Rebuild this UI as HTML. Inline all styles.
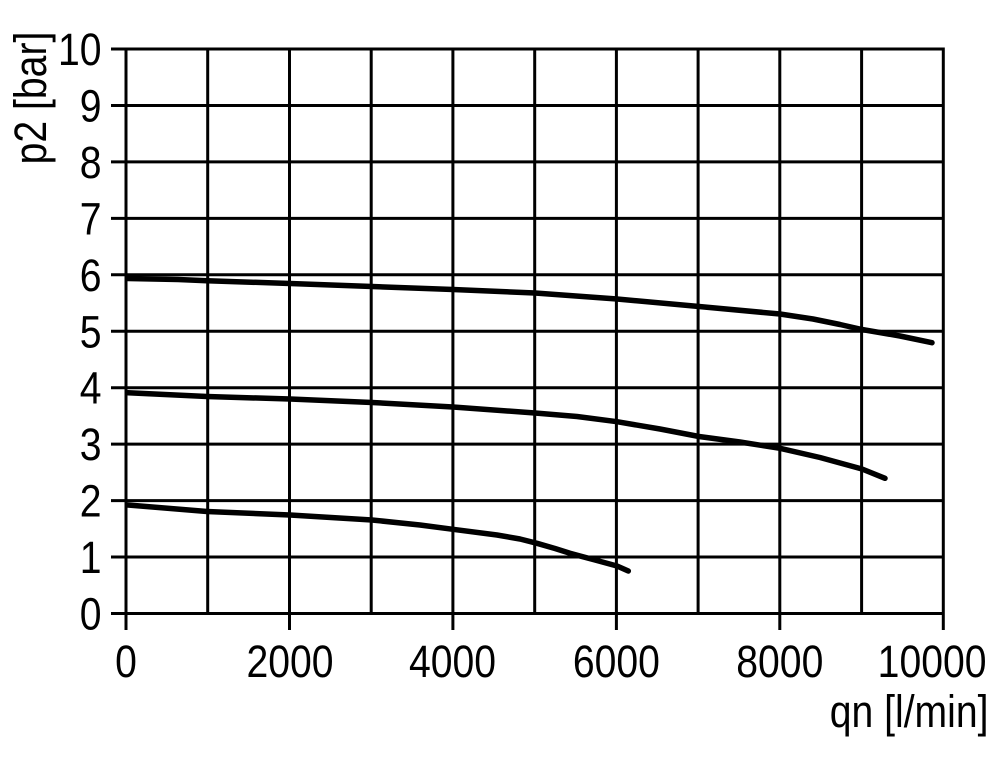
<!DOCTYPE html>
<html>
<head>
<meta charset="utf-8">
<style>
  html,body{margin:0;padding:0;background:#fff;}
  svg{display:block;}
  text{font-family:"Liberation Sans",Arial,sans-serif;font-size:45px;fill:#000;}
</style>
</head>
<body>
<svg width="1000" height="764" viewBox="0 0 1000 764" xmlns="http://www.w3.org/2000/svg">
  <rect x="0" y="0" width="1000" height="764" fill="#fff"/>
  <g stroke="#000" stroke-width="3" fill="none">
    <!-- horizontal grid lines (with left ticks) -->
    <line x1="111" y1="49" x2="943.3" y2="49"/>
    <line x1="111" y1="105.45" x2="943.3" y2="105.45"/>
    <line x1="111" y1="161.9" x2="943.3" y2="161.9"/>
    <line x1="111" y1="218.35" x2="943.3" y2="218.35"/>
    <line x1="111" y1="274.8" x2="943.3" y2="274.8"/>
    <line x1="111" y1="331.25" x2="943.3" y2="331.25"/>
    <line x1="111" y1="387.7" x2="943.3" y2="387.7"/>
    <line x1="111" y1="444.15" x2="943.3" y2="444.15"/>
    <line x1="111" y1="500.6" x2="943.3" y2="500.6"/>
    <line x1="111" y1="557.05" x2="943.3" y2="557.05"/>
    <line x1="111" y1="613.5" x2="943.3" y2="613.5"/>
    <!-- vertical grid lines -->
    <line x1="126" y1="47.5" x2="126" y2="630"/>
    <line x1="207.7" y1="47.5" x2="207.7" y2="613.5"/>
    <line x1="289.5" y1="47.5" x2="289.5" y2="630"/>
    <line x1="371.2" y1="47.5" x2="371.2" y2="613.5"/>
    <line x1="452.9" y1="47.5" x2="452.9" y2="630"/>
    <line x1="534.7" y1="47.5" x2="534.7" y2="613.5"/>
    <line x1="616.4" y1="47.5" x2="616.4" y2="630"/>
    <line x1="698.1" y1="47.5" x2="698.1" y2="613.5"/>
    <line x1="779.8" y1="47.5" x2="779.8" y2="630"/>
    <line x1="861.6" y1="47.5" x2="861.6" y2="613.5"/>
    <line x1="943.3" y1="47.5" x2="943.3" y2="630"/>
  </g>

  <!-- curves -->
  <g stroke="#000" stroke-width="5.5" fill="none" stroke-linecap="round" stroke-linejoin="round">
    <polyline points="128,278.5 178,279.5 207,280.7 290,283.5 372,286.5 453,289.5 535,293 617,299 699,306.5 780,314 813,319 840,324.5 862,329.5 900,336 932,342.7"/>
    <polyline points="128,392.7 207,396.5 290,399 372,402.5 453,407 535,413 577,416.5 617,421.7 660,429 699,436.5 740,442 780,448.3 820,457.5 862,469 885,478.3"/>
    <polyline points="128,505 207,511.5 290,515 372,520 420,525 453,529.3 497,535 520,539 537,543.3 555,548.5 570,553.3 595,560 617,566 628.3,571"/>
  </g>

  <!-- y tick labels -->
  <g text-anchor="end">
    <text transform="translate(101.5,65) scale(0.87,1)">10</text>
    <text transform="translate(101.5,121.5) scale(0.87,1)">9</text>
    <text transform="translate(101.5,178) scale(0.87,1)">8</text>
    <text transform="translate(101.5,234.4) scale(0.87,1)">7</text>
    <text transform="translate(101.5,290.8) scale(0.87,1)">6</text>
    <text transform="translate(101.5,347.3) scale(0.87,1)">5</text>
    <text transform="translate(101.5,403.7) scale(0.87,1)">4</text>
    <text transform="translate(101.5,460.2) scale(0.87,1)">3</text>
    <text transform="translate(101.5,516.6) scale(0.87,1)">2</text>
    <text transform="translate(101.5,573) scale(0.87,1)">1</text>
    <text transform="translate(101.5,629.5) scale(0.87,1)">0</text>
  </g>

  <!-- x tick labels -->
  <g text-anchor="middle">
    <text transform="translate(126,677) scale(0.87,1)">0</text>
    <text transform="translate(290,677) scale(0.87,1)">2000</text>
    <text transform="translate(452.5,677) scale(0.87,1)">4000</text>
    <text transform="translate(616.4,677) scale(0.87,1)">6000</text>
    <text transform="translate(779.8,677) scale(0.87,1)">8000</text>
  </g>
  <text text-anchor="end" transform="translate(986.5,677) scale(0.87,1)">10000</text>

  <!-- axis titles -->
  <text text-anchor="end" transform="translate(988.5,727) scale(0.87,1)">qn [l/min]</text>
  <text text-anchor="middle" transform="translate(46,98) rotate(-90) scale(0.87,1)">p2 [bar]</text>
</svg>
</body>
</html>
